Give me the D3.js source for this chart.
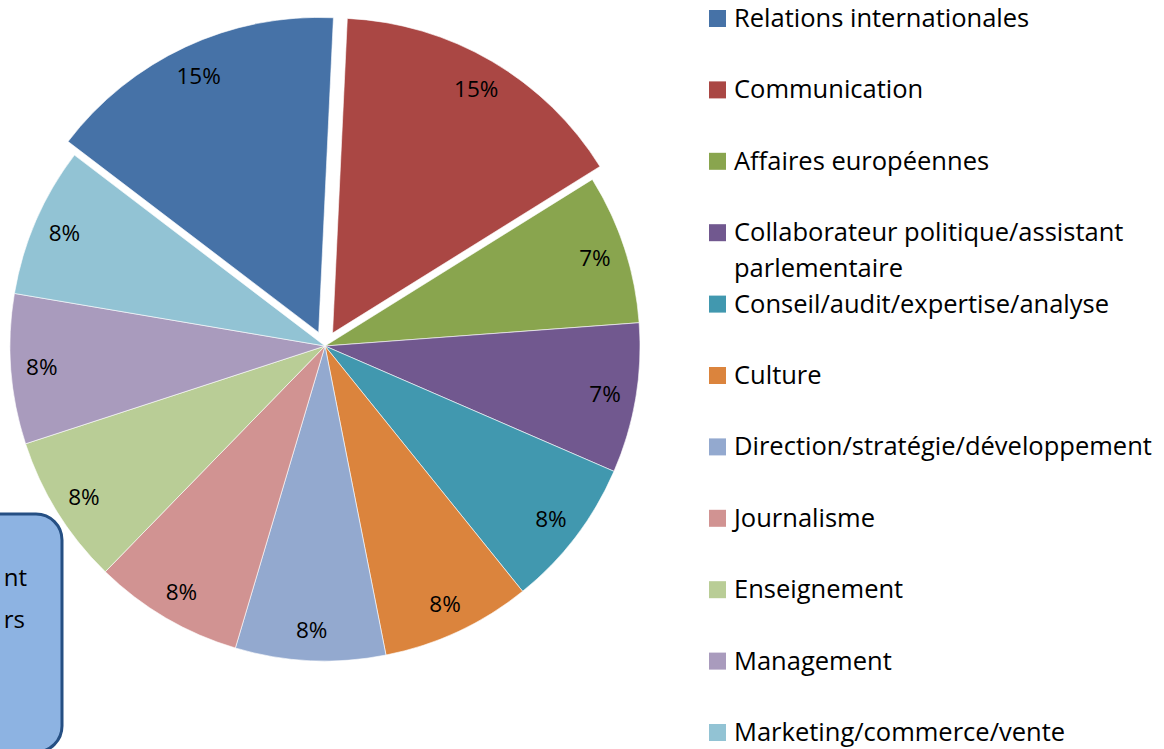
<!DOCTYPE html>
<html lang="fr">
<head>
    <meta charset="UTF-8">
    <title>Secteurs</title>
    <script src="https://cdn.jsdelivr.net/npm/d3@7"></script>
    <style>
        body, html {
            margin: 0;
            padding: 0;
            overflow: hidden;
            background: #fff;
        }
        svg {
            display: block;
            font-family: "Open Sans", Lato, sans-serif;
        }
    </style>
</head>
<body>
    <svg id="mainsvg"></svg>
    <script>
        // données
        const categories = [
            'Relations internationales',
            'Communication',
            'Affaires européennes',
            'Collaborateur politique/assistant parlementaire',
            'Conseil/audit/expertise/analyse',
            'Culture',
            'Direction/stratégie/développement',
            'Journalisme',
            'Enseignement',
            'Management',
            'Marketing/commerce/vente'
        ];
        const values = [2, 2, 1, 1, 1, 1, 1, 1, 1, 1, 1];
        const pctLabels = ['15%', '15%', '7%', '7%', '8%', '8%', '8%', '8%', '8%', '8%', '8%'];
        const exploded = [true, true, false, false, false, false, false, false, false, false, false];
        const colors = ['#4672A7', '#AA4744', '#89A54E', '#71588F', '#4198AF', '#DB843D',
                        '#93A9CF', '#D19392', '#B9CD96', '#A99BBD', '#92C3D4'];
        // lignes de la légende (le 4e libellé passe sur deux lignes)
        const legendLines = [
            ['Relations internationales'],
            ['Communication'],
            ['Affaires européennes'],
            ['Collaborateur politique/assistant', 'parlementaire'],
            ['Conseil/audit/expertise/analyse'],
            ['Culture'],
            ['Direction/stratégie/développement'],
            ['Journalisme'],
            ['Enseignement'],
            ['Management'],
            ['Marketing/commerce/vente']
        ];
        // seule la fin des lignes de l'encadré est visible
        const boxLines = ['nt', 'rs'];

        const width = 1164, height = 749;
        const svg = d3.select('svg').attr('width', width).attr('height', height);

        const cx = 325, cy = 346, radius = 315;
        const explodeDist = 15;
        const labelRadius = 284;
        const startAngle = -52.7 * Math.PI / 180;

        const color = d3.scaleOrdinal().domain(categories).range(colors);

        const pie = d3.pie().sort(null).value(d => d.value)
            .startAngle(startAngle).endAngle(startAngle + 2 * Math.PI);
        const arc = d3.arc().innerRadius(0).outerRadius(radius);

        const data = categories.map((c, i) => ({
            name: c, value: values[i], label: pctLabels[i], explode: exploded[i]
        }));
        const arcs = pie(data);

        const offset = d => {
            const a = (d.startAngle + d.endAngle) / 2;
            const k = d.data.explode ? explodeDist : 0;
            return [Math.sin(a) * k, -Math.cos(a) * k];
        };

        const pieGroup = svg.append('g')
            .attr('transform', `translate(${cx}, ${cy})`);

        const slices = pieGroup.selectAll('g.slice').data(arcs).enter().append('g')
            .attr('class', 'slice')
            .attr('transform', d => `translate(${offset(d)[0]}, ${offset(d)[1]})`);

        slices.append('path')
            .attr('d', arc)
            .attr('fill', d => color(d.data.name))
            .attr('stroke', '#fff')
            .attr('stroke-width', 0.6);

        slices.append('text')
            .attr('x', d => Math.sin((d.startAngle + d.endAngle) / 2) * labelRadius)
            .attr('y', d => -Math.cos((d.startAngle + d.endAngle) / 2) * labelRadius)
            .attr('text-anchor', 'middle')
            .attr('dominant-baseline', 'central')
            .attr('font-size', '22.5px')
            .attr('fill', '#000')
            .text(d => d.data.label);

        // légende
        const legendX = 709, legendY0 = 18.5, legendStep = 71.4;
        const legend = svg.append('g');
        const items = legend.selectAll('g').data(categories).enter().append('g')
            .attr('transform', (d, i) => `translate(${legendX}, ${legendY0 + i * legendStep})`);
        items.append('rect')
            .attr('x', 0).attr('y', -8.5)
            .attr('width', 17).attr('height', 17)
            .attr('fill', d => color(d));
        items.append('text')
            .attr('x', 25)
            .attr('y', 8.5)
            .attr('font-size', '25.5px')
            .attr('fill', '#000')
            .selectAll('tspan').data((d, i) => legendLines[i]).enter().append('tspan')
            .attr('x', 25)
            .attr('dy', (d, j) => j === 0 ? 0 : 36)
            .text(d => d);

        // encadré coupé en bas à gauche
        const box = svg.append('g');
        box.append('rect')
            .attr('x', -60).attr('y', 514)
            .attr('width', 122).attr('height', 238)
            .attr('rx', 26).attr('ry', 26)
            .attr('fill', '#8DB3E2')
            .attr('stroke', '#254F83')
            .attr('stroke-width', 3);
        box.selectAll('text').data(boxLines).enter().append('text')
            .attr('x', (d, i) => i === 0 ? 27 : 25)
            .attr('y', (d, i) => 586 + i * 42)
            .attr('text-anchor', 'end')
            .attr('font-size', '24px')
            .attr('fill', '#000')
            .text(d => d);
    </script>
</body>
</html>
